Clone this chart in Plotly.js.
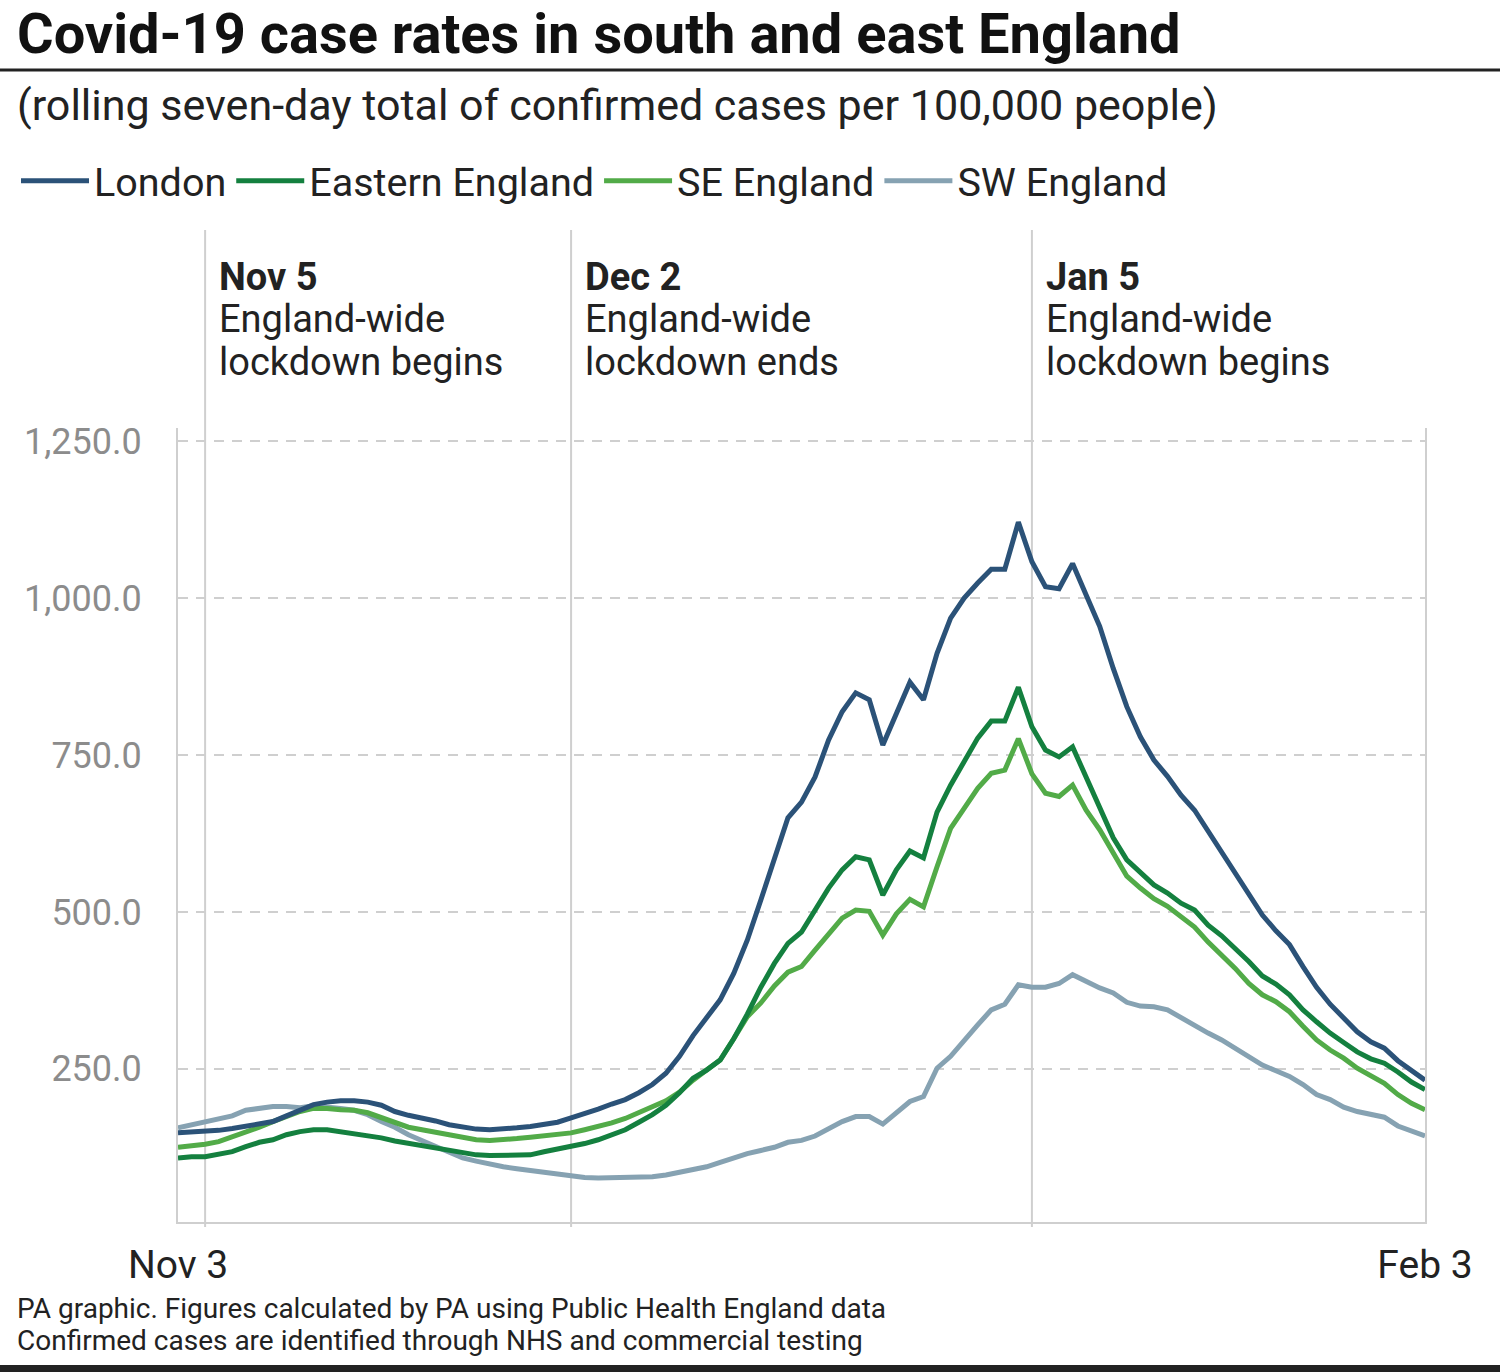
<!DOCTYPE html>
<html>
<head>
<meta charset="utf-8">
<script src="https://cdn.plot.ly/plotly-3.0.1.min.js"></script>
<style>
  html, body { margin: 0; padding: 0; background: #ffffff; }
  #chart { width: 1500px; height: 1372px; }
</style>
</head>
<body>
<div id="chart"></div>
<script>
// ---------- DATA ----------
const startDate = '2020-11-03';
const endDate = '2021-02-03';

const london = [148,149,150,152,155,158,161,166,175,184,193,197,199,199,197,192,182,176,172,167,
  161,157,154,153,154,156,158,161,165,172,178,186,194,201,212,225,243,270,303,333,
  360,402,455,519,583,650,675,715,774,819,849,838,766,817,866,838,912,968,1000,1024,
  1046,1046,1121,1058,1018,1015,1055,1005,955,888,827,779,742,716,686,662,628,596,562,527,
  495,470,448,413,380,353,331,309,293,283,263,247,232];

const eastern = [108,110,110,113,118,126,133,137,145,150,153,153,150,148,145,140,135,131,127,125,
  119,116,113,112,112,112,113,118,122,126,131,137,145,153,165,177,192,212,235,248,
  264,298,337,380,418,450,468,503,538,567,588,583,527,567,597,586,659,702,739,777,
  804,804,858,795,758,747,763,716,668,618,583,562,543,530,514,503,479,462,442,421,
  398,385,368,344,325,307,292,277,266,259,245,229,217];

const seEngland = [125,127,130,134,141,150,157,166,174,182,187,187,185,184,180,173,165,157,153,149,
  143,140,137,136,137,139,141,143,145,148,153,158,164,171,181,190,199,213,232,248,
  264,298,333,355,382,404,413,439,466,490,503,501,463,497,520,508,572,633,665,697,
  721,726,776,720,689,684,702,662,631,594,557,538,521,509,493,476,452,432,410,386,
  368,357,341,318,296,280,267,251,238,227,209,195,185];

const swEngland = [156,161,164,169,175,184,186,190,190,188,191,190,187,184,177,166,157,145,136,127,
  116,108,103,98,94,91,88,85,82,79,77,76,76,76,76,78,81,85,89,94,
  101,109,115,120,125,133,136,143,154,166,174,174,162,179,198,206,251,270,296,320,
  344,353,384,380,380,386,400,389,379,371,356,350,349,344,331,320,307,296,283,270,
  256,247,238,225,209,201,189,182,177,173,159,152,143];

const seriesNames = ['London', 'Eastern England', 'SE England', 'SW England'];
const seriesColors = ['#2b5278', '#14803f', '#52ab48', '#86a2b2'];

const yTicks = [250, 500, 750, 1000, 1250];
const xTickVals = [startDate, endDate];
const xTickText = ['Nov 3', 'Feb 3'];

const eventDates = ['2020-11-05', '2020-12-02', '2021-01-05'];
const eventTitles = ['Nov 5', 'Dec 2', 'Jan 5'];
const eventLine1 = ['England-wide', 'England-wide', 'England-wide'];
const eventLine2 = ['lockdown begins', 'lockdown ends', 'lockdown begins'];

const titleText = 'Covid-19 case rates in south and east England';
const subtitleText = '(rolling seven-day total of confirmed cases per 100,000 people)';
const footer1 = 'PA graphic. Figures calculated by PA using Public Health England data';
const footer2 = 'Confirmed cases are identified through NHS and commercial testing';

// ---------- BUILD ----------
function buildDates(start, n) {
  const out = [];
  const d0 = new Date(start + 'T00:00:00Z');
  for (let i = 0; i < n; i++) {
    const d = new Date(d0.getTime() + i * 86400000);
    out.push(d.toISOString().slice(0, 10));
  }
  return out;
}
const dates = buildDates(startDate, london.length);

const FONT = 'Roboto, "Liberation Sans", Arial, sans-serif';
const W = 1500, H = 1372;
const M = {l: 178, r: 75, t: 428, b: 150};
const plotW = W - M.l - M.r, plotH = H - M.t - M.b;
const px2x = px => (px - M.l) / plotW;        // pixel -> paper x
const px2y = py => (H - M.b - py) / plotH;     // pixel -> paper y

const allSeries = [london, eastern, seEngland, swEngland];
const traces = [];
for (let i = allSeries.length - 1; i >= 0; i--) {
  traces.push({
    type: 'scatter', mode: 'lines',
    x: dates, y: allSeries[i], name: seriesNames[i],
    line: {color: seriesColors[i], width: 5},
    hoverinfo: 'skip'
  });
}

const shapes = [];
const annotations = [];
const EV = 'font-size:38px';
eventDates.forEach((d, i) => {
  shapes.push({type: 'line', xref: 'x', yref: 'paper', x0: d, x1: d,
    y0: px2y(1227), y1: px2y(230), line: {color: '#cfcfcf', width: 2}, layer: 'below'});
  const text = '<b><span style="' + EV + '">' + eventTitles[i] + '</span></b><br>' +
    '<span style="' + EV + '">' + eventLine1[i] + '</span><br>' +
    '<span style="' + EV + '">' + eventLine2[i] + '</span>';
  annotations.push({xref: 'x', yref: 'paper', x: d, y: px2y(319),
    xanchor: 'left', yanchor: 'middle', align: 'left', xshift: 12, showarrow: false, text: text,
    font: {family: FONT, size: 32.5, color: '#222222'}});
});

// title rule and bottom bar
shapes.push({type: 'line', xref: 'paper', yref: 'paper', x0: px2x(0), x1: px2x(W),
  y0: px2y(70), y1: px2y(70), line: {color: '#222222', width: 3}});
shapes.push({type: 'rect', xref: 'paper', yref: 'paper', x0: px2x(0), x1: px2x(W),
  y0: px2y(1365), y1: px2y(1372), line: {width: 0}, fillcolor: '#222222'});

annotations.push({xref: 'paper', yref: 'paper', x: px2x(15), y: px2y(34),
  xanchor: 'left', yanchor: 'middle', showarrow: false, text: '<b>' + titleText + '</b>',
  font: {family: FONT, size: 56, color: '#111111'}});
annotations.push({xref: 'paper', yref: 'paper', x: px2x(15), y: px2y(105),
  xanchor: 'left', yanchor: 'middle', showarrow: false, text: subtitleText,
  font: {family: FONT, size: 43, color: '#222222'}});
annotations.push({xref: 'paper', yref: 'paper', x: px2x(15), y: px2y(1308),
  xanchor: 'left', yanchor: 'middle', showarrow: false, text: footer1,
  font: {family: FONT, size: 28, color: '#222222'}});
annotations.push({xref: 'paper', yref: 'paper', x: px2x(15), y: px2y(1340),
  xanchor: 'left', yanchor: 'middle', showarrow: false, text: footer2,
  font: {family: FONT, size: 28, color: '#222222'}});

const layout = {
  width: W, height: H,
  margin: M,
  paper_bgcolor: '#ffffff', plot_bgcolor: '#ffffff',
  font: {family: FONT, color: '#222222'},
  showlegend: true,
  legend: {
    orientation: 'h', traceorder: 'reversed',
    x: px2x(16), xanchor: 'left', y: px2y(181), yanchor: 'middle',
    font: {family: FONT, size: 39.5, color: '#222222'},
    itemwidth: 68, bgcolor: 'rgba(0,0,0,0)'
  },
  xaxis: {
    type: 'date', range: [startDate, endDate],
    tickmode: 'array', tickvals: xTickVals, ticktext: xTickText,
    showgrid: false, zeroline: false, ticks: '',
    showline: true, linecolor: '#cfcfcf', linewidth: 2,
    tickfont: {family: FONT, size: 39, color: '#222222'},
    ticklabelstandoff: 7, fixedrange: true
  },
  yaxis: {
    range: [6, 1271],
    tickmode: 'array', tickvals: yTicks, tickformat: ',.1f',
    showgrid: true, gridcolor: '#cfcfcf', gridwidth: 1.5, griddash: '10px,8px',
    zeroline: false, ticks: '',
    showline: true, mirror: true, linecolor: '#cfcfcf', linewidth: 2,
    tickfont: {family: FONT, size: 36, color: '#8c8c8c'},
    ticklabelstandoff: 27, fixedrange: true
  },
  shapes: shapes,
  annotations: annotations
};

Plotly.newPlot('chart', traces, layout, {displayModeBar: false, staticPlot: true});
</script>
</body>
</html>
